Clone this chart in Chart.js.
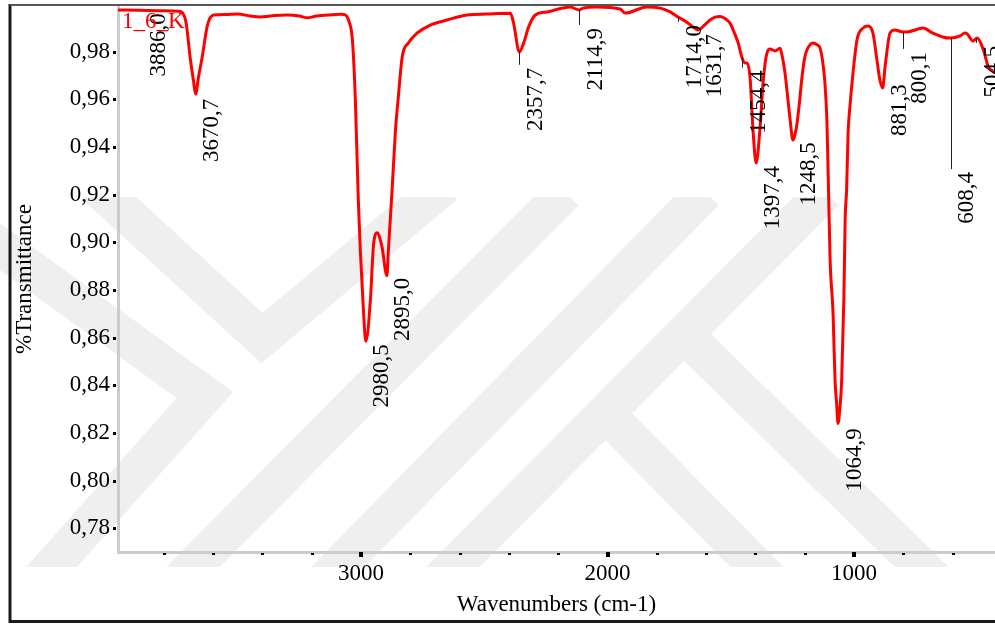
<!DOCTYPE html>
<html>
<head>
<meta charset="utf-8">
<script src="https://cdn.jsdelivr.net/npm/chart.js@4/dist/chart.umd.min.js"></script>
<style>
    html, body { margin: 0; padding: 0; background: #fff; }
    canvas { display: block; }
</style>
</head>
<body>
<canvas id="ftir-chart" width="995" height="624"></canvas>
<script>
// spectrum, high to low wavenumber
const wavenumbers = [
    3986, 3900, 3800, 3740, 3712, 3692, 3680, 3671, 3660, 3644, 3623, 3598,
    3550, 3500, 3450, 3410, 3350, 3300, 3250, 3219, 3180, 3114, 3080,
    3063, 3051, 3035, 3023, 3011, 3003, 2991, 2980.5, 2962, 2950, 2935, 2915,
    2895, 2889, 2874, 2861, 2848, 2833, 2808, 2773, 2719, 2651, 2570, 2489,
    2394, 2381, 2358, 2340, 2320, 2293, 2246, 2151, 2115, 2100, 2043, 1949,
    1928, 1840, 1786, 1746, 1714, 1680, 1653, 1632, 1610, 1584, 1560, 1543,
    1520, 1503, 1485, 1470, 1454, 1442, 1434, 1422, 1409, 1397, 1381, 1369,
    1353, 1340, 1320, 1300, 1290, 1280, 1270, 1259, 1248, 1240, 1231, 1221,
    1211, 1200, 1191, 1166, 1150, 1138, 1128, 1118, 1110, 1105, 1097, 1085,
    1077, 1070, 1065, 1058, 1050, 1041, 1036, 1030, 1024, 1016, 1008, 988,
    964, 943, 923, 907, 895, 884, 874, 854, 834, 800, 785, 720, 680, 640,
    608, 570, 550, 540, 518, 500, 475, 455, 428
];
const transmittance = [
    0.9975, 0.9974, 0.9972, 0.9970, 0.9933, 0.9765, 0.9680, 0.9622, 0.9690, 0.9780, 0.9912, 0.9954,
    0.9956, 0.9958, 0.9950, 0.9946, 0.9952, 0.9954, 0.9950, 0.9942, 0.9950, 0.9955, 0.9957,
    0.9954, 0.9933, 0.9849, 0.9597, 0.9177, 0.8968, 0.8729, 0.8585, 0.8758, 0.8981, 0.9040, 0.8981,
    0.8860, 0.8968, 0.9220, 0.9459, 0.9618, 0.9778, 0.9837, 0.9878, 0.9912, 0.9933, 0.9954, 0.9958,
    0.9961, 0.9920, 0.9799, 0.9837, 0.9904, 0.9954, 0.9967, 0.9988, 0.9975, 0.9983, 0.9988, 0.9979,
    0.9962, 0.9988, 0.9983, 0.9967, 0.9946, 0.9925, 0.9904, 0.9891, 0.9908, 0.9933, 0.9946, 0.9948,
    0.9937, 0.9920, 0.9878, 0.9837, 0.9774, 0.9753, 0.9753, 0.9694, 0.9459, 0.9333, 0.9484, 0.9669,
    0.9795, 0.9811, 0.9803, 0.9815, 0.9774, 0.9711, 0.9618, 0.9513, 0.9429, 0.9450, 0.9500, 0.9590,
    0.9694, 0.9774, 0.9807, 0.9837, 0.9829, 0.9816, 0.9765, 0.9669, 0.9513, 0.9296, 0.8926, 0.8703,
    0.8422, 0.8317, 0.8240, 0.8296, 0.8422, 0.8771, 0.9093, 0.9220, 0.9459, 0.9576, 0.9669, 0.9849,
    0.9899, 0.9908, 0.9878, 0.9765, 0.9681, 0.9648, 0.9736, 0.9878, 0.9891, 0.9883, 0.9883, 0.9899, 0.9878, 0.9862,
    0.9857, 0.9866, 0.9878, 0.9874, 0.9845, 0.9857, 0.9807, 0.9736, 0.9715
];

const xTicks      = [3000, 2000, 1000];
const xMinorTicks = [3800, 3600, 3400, 3200, 2800, 2600, 2400, 2200, 1800, 1600, 1400, 1200, 800, 600];
const yTicks      = [0.78, 0.80, 0.82, 0.84, 0.86, 0.88, 0.90, 0.92, 0.94, 0.96, 0.98];

const peakPositions = [3886.0, 3670.7, 2980.5, 2895.0, 2357.7, 2114.9, 1714.0, 1631.7,
                       1454.4, 1397.4, 1248.5, 1064.9, 881.3, 800.1, 608.4, 504.5];
const peakLabels    = ['3886,0', '3670,7', '2980,5', '2895,0', '2357,7', '2114,9', '1714,0', '1631,7',
                       '1454,4', '1397,4', '1248,5', '1064,9', '881,3', '800,1', '608,4', '504,5'];
// how far below the curve each label ends (px)
const labelDrops    = [3, 5, 3, 2, 16, 18, 8, 4, 13, 4, 3, 5, 2, 20, 134, 7];

const sampleName = '1_6_K';
const serif = "'Liberation Serif', 'Times New Roman', serif";

function valueAt(w) {
    for (let i = 0; i < wavenumbers.length - 1; i++) {
        const a = wavenumbers[i], b = wavenumbers[i + 1];
        if (w <= a && w >= b) {
            const t = (a - w) / (a - b);
            return transmittance[i] + t * (transmittance[i + 1] - transmittance[i]);
        }
    }
    return transmittance[transmittance.length - 1];
}

// light grey chevron watermark behind everything
const watermarkPlugin = {
    id: 'watermark',
    beforeDraw(chart) {
        const c = chart.ctx;
        c.save();
        c.fillStyle = '#fff';
        c.fillRect(0, 0, chart.width, chart.height);
        c.beginPath();
        c.rect(0, 197, chart.width, 370);
        c.clip();
        c.strokeStyle = '#efefef';
        c.lineWidth = 38;
        c.lineCap = 'butt';
        c.lineJoin = 'miter';
        const paths = [
            [[95, 185], [262, 338], [445, 185]],
            [[-30, 225], [205, 395], [40, 580]],
            [[180, 580], [565, 192]],
            [[325, 580], [705, 192]],
            [[440, 580], [825, 192]],
            [[612, 420], [770, 580]],
            [[695, 345], [935, 580]],
        ];
        for (const p of paths) {
            c.beginPath();
            c.moveTo(p[0][0], p[0][1]);
            for (let i = 1; i < p.length; i++) c.lineTo(p[i][0], p[i][1]);
            c.stroke();
        }
        c.restore();
    }
};

const decorPlugin = {
    id: 'decor',
    afterDraw(chart) {
        const c = chart.ctx;
        const xs = chart.scales.x, ys = chart.scales.y;
        const area = chart.chartArea;
        c.save();

        // tick marks
        c.fillStyle = '#000';
        for (const v of yTicks) {
            const y = Math.round(ys.getPixelForValue(v));
            c.fillRect(area.left - 5, y - 1, 3, 3);
        }
        for (const v of xTicks) {
            const x = Math.round(xs.getPixelForValue(v));
            c.fillRect(x - 2, area.bottom, 4, 5);
        }
        for (const v of xMinorTicks) {
            const x = Math.round(xs.getPixelForValue(v));
            c.fillRect(x - 1, area.bottom + 1, 3, 2);
        }

        // peak labels with leader lines
        c.font = '23px ' + serif;
        c.fillStyle = '#000';
        c.strokeStyle = '#222';
        c.lineWidth = 1;
        peakPositions.forEach((w, i) => {
            const px = xs.getPixelForValue(w);
            const py = ys.getPixelForValue(valueAt(w));
            const drop = labelDrops[i];
            if (drop > 6) {
                c.beginPath();
                c.moveTo(Math.round(px) + 0.5, py);
                c.lineTo(Math.round(px) + 0.5, py + drop - 3);
                c.stroke();
            }
            c.save();
            c.translate(px + 22.5, py + drop);
            c.rotate(-Math.PI / 2);
            c.textAlign = 'right';
            c.textBaseline = 'alphabetic';
            c.fillText(peakLabels[i], 0, 0);
            c.restore();
        });

        // sample name
        c.fillStyle = '#ff0000';
        c.textAlign = 'left';
        c.textBaseline = 'alphabetic';
        c.fillText(sampleName, area.left + 4, 28);

        // outer frame
        c.strokeStyle = '#1a1a1a';
        c.lineWidth = 3;
        c.beginPath();
        c.moveTo(10, 4);
        c.lineTo(10, 621.5);
        c.lineTo(chart.width, 621.5);
        c.stroke();
        c.strokeStyle = '#555';
        c.lineWidth = 2;
        c.beginPath();
        c.moveTo(10, 5);
        c.lineTo(chart.width, 5);
        c.stroke();
        c.restore();
    }
};

Chart.defaults.font.family = serif;
Chart.defaults.font.size = 23;
Chart.defaults.color = '#000';

new Chart(document.getElementById('ftir-chart'), {
    type: 'line',
    data: {
        datasets: [{
            data: wavenumbers.map((w, i) => ({ x: w, y: transmittance[i] })),
            borderColor: '#ff0000',
            borderWidth: 3,
            pointRadius: 0,
            cubicInterpolationMode: 'monotone',
            clip: 3,
        }],
    },
    options: {
        responsive: false,
        animation: false,
        devicePixelRatio: 1,
        layout: { padding: { top: 6, left: 0, right: 0, bottom: 0 } },
        plugins: { legend: { display: false }, tooltip: { enabled: false } },
        scales: {
            x: {
                type: 'linear',
                reverse: true,
                min: 428,
                max: 3986,
                afterFit: s => { s.height = 72; s.paddingLeft = 0; s.paddingRight = 0; },
                afterBuildTicks: s => { s.ticks = xTicks.map(v => ({ value: v })); },
                grid: { display: false, drawTicks: false },
                border: { display: true, color: '#cccccc', width: 3 },
                ticks: { padding: 8, maxRotation: 0, callback: v => String(v) },
                title: { display: true, text: 'Wavenumbers (cm-1)', padding: { top: 0, bottom: 5 } },
            },
            y: {
                min: 0.77005,
                max: 0.99918,
                afterFit: s => { s.width = 118; s.paddingTop = 0; s.paddingBottom = 0; },
                afterBuildTicks: s => { s.ticks = yTicks.map(v => ({ value: v })); },
                grid: { display: false, drawTicks: false },
                border: { display: true, color: '#cccccc', width: 3 },
                ticks: { padding: 8, callback: v => v.toFixed(2).replace('.', ',') },
                title: { display: true, text: '%Transmittance', padding: { top: 11, bottom: 0 } },
            },
        },
    },
    plugins: [watermarkPlugin, decorPlugin],
});
</script>
</body>
</html>
